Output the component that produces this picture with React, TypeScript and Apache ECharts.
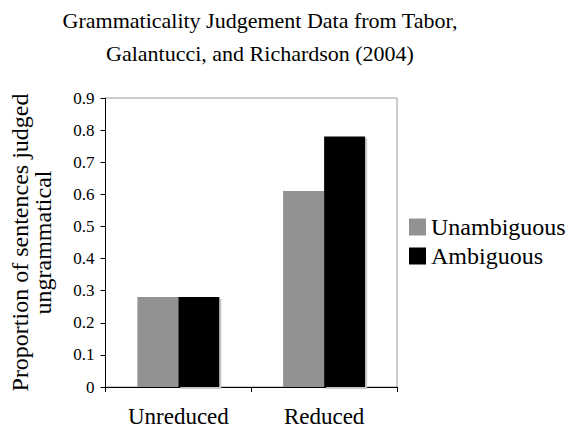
import React, { useEffect, useRef } from "react";
import * as echarts from "echarts";

const categories = ["Unreduced", "Reduced"];
const unambiguous = [0.28, 0.61];
const ambiguous = [0.28, 0.78];
const titleLines = ["Grammaticality Judgement Data from Tabor,", "Galantucci, and Richardson (2004)"];
const yName = ["Proportion of sentences judged", "ungrammatical"];

const FONT = "Liberation Serif";

export default function App() {
  const ref = useRef<HTMLDivElement>(null);
  useEffect(() => {
    document.body.style.margin = "0";
    const chart = echarts.init(ref.current!, undefined, { renderer: "svg" });
    chart.setOption({
      animation: false,
      backgroundColor: "#ffffff",
      textStyle: { fontFamily: FONT, color: "#000" },
      graphic: [
        {
          type: "text",
          x: 260,
          y: 4,
          style: {
            text: titleLines.join("\n"),
            fontFamily: FONT,
            fontSize: 22,
            lineHeight: 33,
            fill: "#000",
            textAlign: "center",
            textVerticalAlign: "top",
          },
        },
      ],
      legend: {
        orient: "vertical",
        left: 404,
        top: 210,
        itemWidth: 17,
        itemHeight: 17,
        itemGap: 5,
        icon: "rect",
        itemStyle: { shadowBlur: 0, shadowOffsetX: 0, shadowOffsetY: 0, shadowColor: "transparent" },
        textStyle: { fontFamily: FONT, fontSize: 24, lineHeight: 24, color: "#000" },
        data: ["Unambiguous", "Ambiguous"],
      },
      grid: {
        left: 104,
        right: 172,
        top: 98,
        bottom: 42,
        show: true,
        borderColor: "#9a9a9a",
        borderWidth: 1,
      },
      xAxis: {
        type: "category",
        data: categories,
        axisLine: { lineStyle: { color: "#000", width: 1 } },
        axisTick: { show: true, length: 5, alignWithLabel: false, lineStyle: { color: "#000" } },
        axisLabel: { fontFamily: FONT, fontSize: 23, color: "#000", margin: 18 },
      },
      yAxis: {
        type: "value",
        min: 0,
        max: 0.9,
        interval: 0.1,
        name: yName.join("\n"),
        nameLocation: "middle",
        nameRotate: 90,
        nameGap: 51,
        nameTextStyle: { fontFamily: FONT, fontSize: 24, lineHeight: 23, color: "#000" },
        axisLine: { show: true, lineStyle: { color: "#000", width: 1 } },
        axisTick: { show: true, length: 5, lineStyle: { color: "#000" } },
        splitLine: { show: false },
        axisLabel: {
          fontFamily: FONT,
          fontSize: 17,
          color: "#000",
          margin: 11,
          formatter: (v: number) => (v === 0 ? "0" : v.toFixed(1)),
        },
      },
      series: [
        {
          name: "Unambiguous",
          type: "bar",
          data: unambiguous,
          barWidth: 41,
          barGap: "0%",
          itemStyle: { color: "#929292" },
        },
        {
          name: "Ambiguous",
          type: "bar",
          data: ambiguous,
          barWidth: 41,
          barGap: "0%",
          itemStyle: {
            color: "#000000",
            shadowColor: "#c8c8c8",
            shadowBlur: 0,
            shadowOffsetX: 2,
            shadowOffsetY: 2,
          },
        },
      ],
    });
    return () => chart.dispose();
  }, []);
  return <div ref={ref} style={{ width: 569, height: 429 }} />;
}
